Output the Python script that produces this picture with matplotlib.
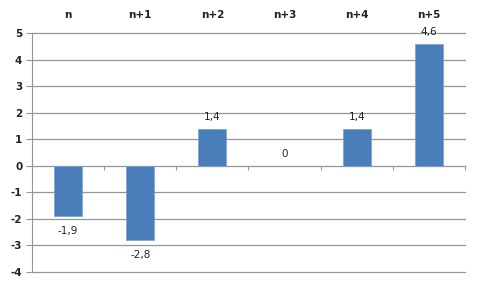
import matplotlib
matplotlib.use("Agg")
import matplotlib.pyplot as plt
import numpy as np

plt.rcParams["axes.unicode_minus"] = False

categories = ["n", "n+1", "n+2", "n+3", "n+4", "n+5"]
values = [-1.9, -2.8, 1.4, 0.0, 1.4, 4.6]
value_labels = ["-1,9", "-2,8", "1,4", "0", "1,4", "4,6"]
yticks = [5, 4, 3, 2, 1, 0, -1, -2, -3, -4]

fig = plt.figure(figsize=(4.8, 2.88), dpi=100)
ax = fig.add_axes([32/480, 1-272/288, (465-32)/480, (272-33)/288])

x = np.arange(len(categories))
edges = ["none" if v == 0 else "#7fa6d6" for v in values]
ax.bar(x, values, width=0.39, color="#4a7ebb", edgecolor=edges, linewidth=0.6, zorder=3)

ax.set_xlim(-0.5, len(categories) - 0.5)
ax.set_ylim(-4, 5)
ax.set_yticks(yticks)
ax.set_yticklabels([str(t) for t in yticks], fontsize=7.5, fontweight="bold", color="#222222")
for t in yticks:
    if t != 0:
        ax.axhline(t, color="#969696", linewidth=0.9, zorder=1, clip_on=False)

for s in ["top", "right"]:
    ax.spines[s].set_visible(False)
ax.spines["left"].set_color("#969696")
ax.spines["bottom"].set_position(("data", 0))
ax.spines["bottom"].set_color("#969696")
ax.spines["bottom"].set_linewidth(0.9)
ax.tick_params(axis="y", length=4, color="#969696", pad=3)

ax.set_xticks(np.arange(-0.5, len(categories), 1.0))
ax.set_xticklabels([])
ax.tick_params(axis="x", length=3, color="#969696", direction="out")

sec = ax.secondary_xaxis("top")
sec.set_xticks(x)
sec.set_xticklabels(categories, fontsize=7.5, fontweight="bold", color="#222222")
sec.tick_params(length=0, pad=9)
sec.spines["top"].set_visible(False)

for xi, v, lab in zip(x, values, value_labels):
    if v >= 0:
        ax.annotate(lab, (xi, v), xytext=(0, 5), textcoords="offset points",
                    ha="center", va="bottom", fontsize=7.5, color="#222222")
    else:
        ax.annotate(lab, (xi, v), xytext=(0, -7), textcoords="offset points",
                    ha="center", va="top", fontsize=7.5, color="#222222")

fig.savefig("out.png", dpi=100)
